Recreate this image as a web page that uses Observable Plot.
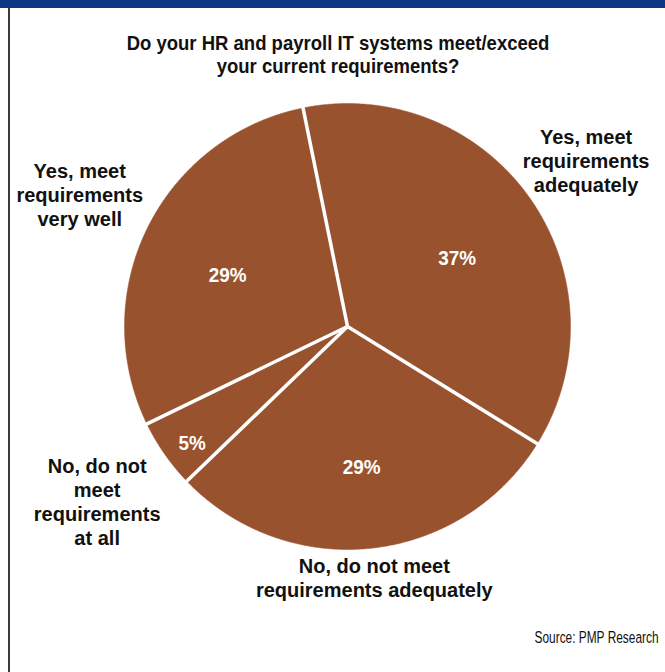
<!DOCTYPE html>
<html><head><meta charset="utf-8">
<script src="https://cdn.jsdelivr.net/npm/d3@7"></script>
<script src="https://cdn.jsdelivr.net/npm/@observablehq/plot@0.6"></script>
<style>
body{margin:0;background:#fff;}
#wrap{position:relative;width:665px;height:672px;overflow:hidden;background:#fff;}
#bar{position:absolute;left:0;top:0;width:665px;height:8px;background:#0c3782;}
#rule{position:absolute;left:8px;top:8px;width:1.5px;height:664px;background:#3a3a3a;}
#chart{position:absolute;left:0;top:0;}
</style></head><body>
<div id="wrap"><div id="chart"></div><div id="bar"></div><div id="rule"></div></div>
<script>
// ---- data ----
const title = "Do your HR and payroll IT systems meet/exceed\nyour current requirements?";
const categories = [
  "Yes, meet\nrequirements\nadequately",
  "No, do not meet\nrequirements adequately",
  "No, do not\nmeet\nrequirements\nat all",
  "Yes, meet\nrequirements\nvery well"
];
const shares = [37, 29, 5, 29];
const source = "Source: PMP Research";

// ---- layout / style ----
const W = 665, H = 672;
const FONT = "'Liberation Sans', Arial, sans-serif";
const BROWN = "#98532e";
const startAngle = -11.5 * Math.PI / 180;
const labelSize = 20, labelLH = 1.2;
const SQ_PCT = 0.9, SQ_CAT = 1.0, SQ_TITLE = 0.95, SQ_SRC = 0.7; // horizontal squeeze, mimics condensed face

const arcs = d3.pie().sort(null).value(d => d).startAngle(startAngle)(shares);

// slice polygons
const pts = [];
arcs.forEach((a, i) => {
  pts.push({slice: i, x: 0, y: 0});
  const n = Math.max(8, Math.ceil((a.endAngle - a.startAngle) / 0.005));
  for (let k = 0; k <= n; k++) {
    const t = a.startAngle + (a.endAngle - a.startAngle) * k / n;
    pts.push({slice: i, x: Math.sin(t), y: Math.cos(t)});
  }
  pts.push({slice: i, x: 0, y: 0});
});

// separators
const seps = arcs.map(a => ({x1: 0, y1: 0, x2: 1.02 * Math.sin(a.startAngle), y2: 1.02 * Math.cos(a.startAngle)}));

// percent labels
const pct = arcs.map(a => {
  const m = (a.startAngle + a.endAngle) / 2;
  const r = a.data < 10 ? 0.85 : 0.6;
  return {x: r * Math.sin(m), y: r * Math.cos(m), text: a.data + "%"};
});

// outer labels, placed so their box sits just off the circle along the mid angle
const ctx = document.createElement("canvas").getContext("2d");
ctx.font = `bold ${labelSize}px ${FONT}`;
const R = 223; // pixels per unit
const outer = arcs.map((a, i) => {
  const m = (a.startAngle + a.endAngle) / 2;
  const lines = categories[i].split("\n");
  const w = SQ_CAT * d3.max(lines, l => ctx.measureText(l).width);
  const h = lines.length * labelSize * labelLH;
  const sx = Math.sin(m), sy = Math.cos(m);
  const t = Math.min(w / 2 / Math.abs(sx || 1e-6), h / 2 / Math.abs(sy || 1e-6));
  const r = 1 + (5 + t) / R;
  return {x: r * sx, y: r * sy, text: categories[i]};
});

const chart = Plot.plot({
  width: W, height: H,
  marginTop: 0, marginBottom: 0, marginLeft: 0, marginRight: 0,
  x: {domain: [-1, 1], range: [347 - R, 347 + R], axis: null},
  y: {domain: [-1, 1], range: [326 + R, 326 - R], axis: null},
  style: {fontFamily: FONT, background: "white", overflow: "visible"},
  marks: [
    Plot.line(pts, {x: "x", y: "y", z: "slice", fill: BROWN, stroke: BROWN, strokeWidth: 0.5, curve: "linear"}),
    Plot.link(seps, {x1: "x1", y1: "y1", x2: "x2", y2: "y2", stroke: "white", strokeWidth: 3.5, strokeLinecap: "butt"}),
    Plot.text(pct, {x: "x", y: "y", text: "text", fill: "white", fontSize: 21, fontWeight: "bold", lineAnchor: "top", fontFamily: FONT}),
    Plot.text(outer, {x: "x", y: "y", text: "text", fill: "#111", fontSize: labelSize, fontWeight: "bold", lineHeight: labelLH, lineAnchor: "middle", fontFamily: FONT}),
    Plot.text([title], {frameAnchor: "top", dx: 5, dy: 33, text: d => d, fontSize: 19.5, fontWeight: "bold", lineHeight: 1.18, lineAnchor: "top", fill: "#111", fontFamily: FONT}),
    Plot.text([source], {frameAnchor: "bottom-right", dx: -7, dy: -30, text: d => d, fontSize: 17, fill: "#111", textAnchor: "end", lineAnchor: "bottom", fontFamily: FONT})
  ]
});
// horizontal squeeze of each text mark (in mark order) to mimic the condensed typeface
const textGroups = chart.querySelectorAll('g[aria-label="text"]');
[SQ_PCT, SQ_CAT, SQ_TITLE, SQ_SRC].forEach((s, i) => {
  if (!textGroups[i]) return;
  textGroups[i].querySelectorAll("text").forEach(t => {
    const tr = t.getAttribute("transform") || "";
    t.setAttribute("transform", `${tr} scale(${s},1)`);
  });
});
document.getElementById("chart").append(chart);
</script>
</body></html>
